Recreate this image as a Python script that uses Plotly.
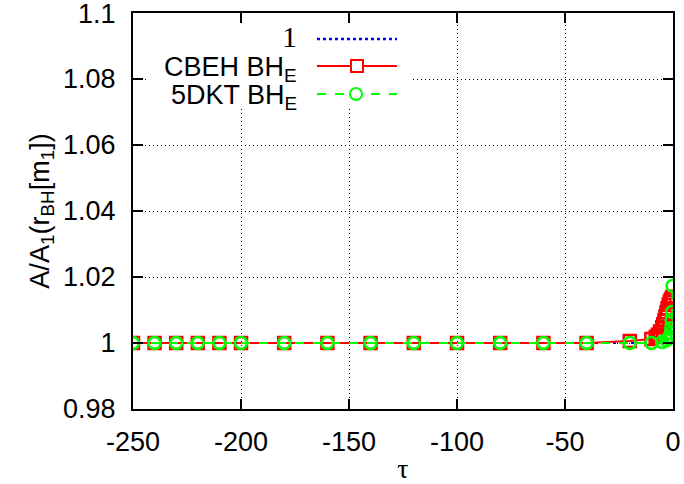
import plotly.graph_objects as go

# ---- data ----
tau_red = [-250, -240, -230, -220, -210, -200, -180, -160, -140, -120, -100, -80, -60, -40, -20,
           -10, -8, -7, -6, -5, -4.5, -4, -3.5, -3, -2.5, -2, -1.5, -1, -0.5, -0.2]
val_red = [1.0, 1.0, 1.0, 1.0, 1.0, 1.0, 1.0, 1.0, 1.0, 1.0, 1.0, 1.0, 1.0, 1.0, 1.0006,
           1.0012, 1.0018, 1.0025, 1.0035, 1.0048, 1.0057, 1.0068, 1.008, 1.0093,
           1.0105, 1.0116, 1.0125, 1.0132, 1.0137, 1.014]
tau_green = [-250, -240, -230, -220, -210, -200, -180, -160, -140, -120, -100, -80, -60, -40, -20,
             -10, -5, -3, -2, -1.5, -1, -0.8, -0.6, -0.4, -0.2]
val_green = [1.0, 1.0, 1.0, 1.0, 1.0, 1.0, 1.0, 1.0, 1.0, 1.0, 1.0, 1.0, 1.0, 1.0, 1.0,
             1.0, 1.0003, 1.0008, 1.0015, 1.002, 1.003, 1.0045, 1.007, 1.0094, 1.0173]
tau_one = [-250, 0]
val_one = [1.0, 1.0]

legend_labels = ["1", "CBEH BH<sub>E</sub>", "5DKT BH<sub>E</sub>"]
x_ticks = [-250, -200, -150, -100, -50, 0]
x_tick_text = ["-250", "-200", "-150", "-100", "-50", "0"]
y_ticks = [0.98, 1.0, 1.02, 1.04, 1.06, 1.08, 1.0999]
y_tick_text = ["0.98", "1", "1.02", "1.04", "1.06", "1.08", "1.1"]

# ---- geometry ----
W, H = 684, 484
L, R, T, B = 133, 11, 13, 75
PW, PH = W - L - R, H - T - B


def px(x):
    return (x - L) / PW


def py(y):
    return (H - B - y) / PH


FONT = "Liberation Sans, Arial, sans-serif"
SERIF = "Liberation Serif, Times New Roman, serif"
FS = 27

fig = go.Figure()
fig.add_trace(go.Scatter(x=tau_one, y=val_one, mode="lines",
                         line=dict(color="#0000ff", width=2, dash="dot"), showlegend=False))
fig.add_trace(go.Scatter(x=tau_red, y=val_red, mode="lines+markers",
                         line=dict(color="#ff0000", width=2),
                         marker=dict(symbol="square-open", size=12, color="#ff0000",
                                     line=dict(width=2.5, color="#ff0000")),
                         showlegend=False))
fig.add_trace(go.Scatter(x=tau_green, y=val_green, mode="lines+markers",
                         line=dict(color="#00ff00", width=2, dash="dash"),
                         marker=dict(symbol="circle-open", size=12, color="#00ff00",
                                     line=dict(width=2.5, color="#00ff00")),
                         showlegend=False))

shapes = []
# white legend box covering gridlines
shapes.append(dict(type="rect", xref="paper", yref="paper", x0=px(146), x1=px(412),
                   y0=py(107), y1=py(25), fillcolor="white", line=dict(width=0), layer="above"))
# legend samples
yl = [39, 66, 94]
shapes.append(dict(type="line", xref="paper", yref="paper", x0=px(317), x1=px(397),
                   y0=py(yl[0]), y1=py(yl[0]), line=dict(color="#0000ff", width=2.5, dash="dot"),
                   layer="above"))
shapes.append(dict(type="line", xref="paper", yref="paper", x0=px(317), x1=px(397),
                   y0=py(yl[1]), y1=py(yl[1]), line=dict(color="#ff0000", width=2),
                   layer="above"))
shapes.append(dict(type="rect", xref="paper", yref="paper", x0=px(351), x1=px(363),
                   y0=py(yl[1] + 6), y1=py(yl[1] - 6), fillcolor="white",
                   line=dict(color="#ff0000", width=2), layer="above"))
shapes.append(dict(type="line", xref="paper", yref="paper", x0=px(317), x1=px(397),
                   y0=py(yl[2]), y1=py(yl[2]), line=dict(color="#00ff00", width=2, dash="dash"),
                   layer="above"))
shapes.append(dict(type="circle", xref="paper", yref="paper", x0=px(350), x1=px(362),
                   y0=py(yl[2] + 6), y1=py(yl[2] - 6), fillcolor="white",
                   line=dict(color="#00ff00", width=2), layer="above"))

annotations = []
annotations.append(dict(text=legend_labels[0], xref="paper", yref="paper", x=px(299), y=py(yl[0] - 2),
                        xanchor="right", yanchor="middle", showarrow=False,
                        font=dict(family=SERIF, size=30, color="black")))
for i in (1, 2):
    annotations.append(dict(text=legend_labels[i], xref="paper", yref="paper", x=px(299),
                            y=py(yl[i] + 3), xanchor="right", yanchor="middle", showarrow=False,
                            font=dict(family=FONT, size=FS, color="black")))

fig.update_layout(
    width=W, height=H,
    margin=dict(l=L, r=R, t=T, b=B, pad=0),
    paper_bgcolor="white", plot_bgcolor="white",
    shapes=shapes, annotations=annotations,
    font=dict(family=FONT, size=FS, color="black"),
    showlegend=False,
)
fig.update_xaxes(range=[-250, 0], tickvals=x_ticks, ticktext=x_tick_text, ticks="inside",
                 ticklen=10, tickwidth=1.5, automargin=False, ticklabelstandoff=8,
                 tickcolor="black", showline=True, linecolor="black", linewidth=2, mirror="ticks",
                 showgrid=True, gridcolor="black", griddash="1px,3px", gridwidth=1, zeroline=False,
                 tickfont=dict(family=FONT, size=FS),
                 title=dict(text="τ", font=dict(family=SERIF, size=28), standoff=2))
fig.update_yaxes(range=[0.98, 1.1], tickvals=y_ticks, ticktext=y_tick_text, ticks="inside",
                 ticklen=10, tickwidth=1.5, automargin=False, ticklabelstandoff=10,
                 ticklabeloverflow="allow",
                 tickcolor="black", showline=True, linecolor="black",
                 linewidth=2, mirror="ticks", showgrid=True, gridcolor="black", griddash="1px,3px",
                 gridwidth=1, zeroline=False, tickfont=dict(family=FONT, size=FS),
                 title=dict(text="A/A<sub>1</sub>(r<sub>BH</sub>[m<sub>1</sub>])",
                            font=dict(family=FONT, size=FS), standoff=6))

fig.write_html("out.html", config={"displayModeBar": False},
               post_script="document.body.style.margin='0';document.body.style.overflow='hidden';")
